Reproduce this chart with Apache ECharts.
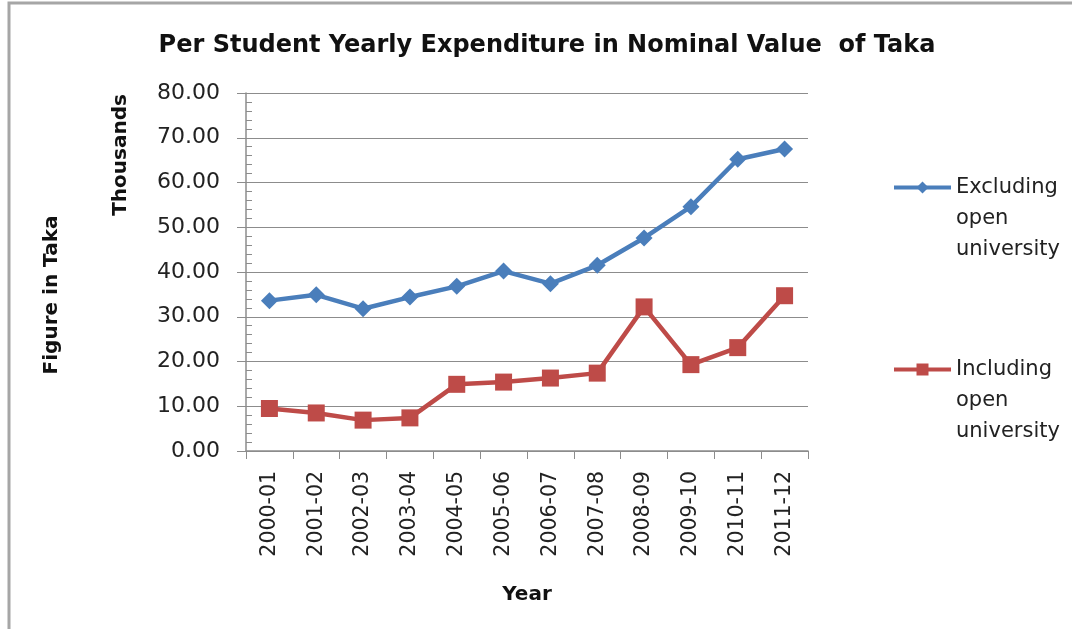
<!DOCTYPE html>
<html>
<head>
<meta charset="utf-8">
<script src="https://cdn.jsdelivr.net/npm/echarts@6/dist/echarts.min.js"></script>
<style>
  html, body { margin: 0; padding: 0; background: #fff; }
  #myEcharts { width: 1072px; height: 629px; }
</style>
</head>
<body>
<div id="myEcharts"></div>
<script>
// categories (school years) and the two series, in thousands of Taka
const years = ["2000-01", "2001-02", "2002-03", "2003-04", "2004-05", "2005-06",
               "2006-07", "2007-08", "2008-09", "2009-10", "2010-11", "2011-12"];
const excludingOpen = [33.6, 34.9, 31.8, 34.4, 36.8, 40.2, 37.4, 41.5, 47.6, 54.6, 65.2, 67.5];
const includingOpen = [9.5, 8.5, 6.9, 7.4, 14.9, 15.4, 16.3, 17.4, 32.2, 19.3, 23.1, 34.7];
const yTicks = { min: 0, max: 80, interval: 10 };

const font = "DejaVu Sans";
const gray = "#8c8c8c";

let chart = echarts.init(document.getElementById("myEcharts"));
chart.setOption({
    animation: false,
    title: {
        text: "Per Student Yearly Expenditure in Nominal Value  of Taka",
        left: 542,
        textAlign: "center",
        top: 29,
        textStyle: { fontFamily: font, fontSize: 24, fontWeight: "bold", color: "#111" }
    },
    grid: { left: 246, right: 264, top: 93, bottom: 178 },
    legend: {
        orient: "vertical",
        left: 887,
        top: 105,
        itemWidth: 57,
        itemHeight: 15,
        itemGap: 27,
        data: ["Excluding open university", "Including open university"],
        // two blank lines first so the icon sits level with the first word
        formatter: function (name) {
            return "\n\n" + name.replace(/ /g, "\n");
        },
        lineStyle: { width: 4 },
        textStyle: { fontFamily: font, fontSize: 21, lineHeight: 31, color: "#222" }
    },
    xAxis: {
        type: "category",
        data: years,
        boundaryGap: true,
        name: "Year",
        nameLocation: "middle",
        nameGap: 134,
        nameTextStyle: { fontFamily: font, fontSize: 20, fontWeight: "bold", color: "#111" },
        axisLine: { lineStyle: { color: gray, width: 1.5 } },
        axisTick: { show: true, length: 8, lineStyle: { color: gray } },
        axisLabel: { rotate: 90, margin: 20, fontFamily: font, fontSize: 20.5, color: "#222" }
    },
    yAxis: [
        {
            type: "value",
            min: yTicks.min,
            max: yTicks.max,
            interval: yTicks.interval,
            axisLine: { show: true, lineStyle: { color: gray, width: 1.5 } },
            axisTick: { show: true, length: 9, lineStyle: { color: gray } },
            splitLine: { show: true, lineStyle: { color: gray, width: 1.2 } },
            axisLabel: {
                margin: 26, fontFamily: font, fontSize: 22, color: "#222",
                formatter: function (v) { return v.toFixed(2); }
            }
        },
        {
            // overlay axis only for the minor ticks, which point into the plot
            type: "value",
            position: "left",
            min: yTicks.min,
            max: yTicks.max,
            interval: yTicks.interval,
            axisLine: { show: false },
            axisLabel: { show: false },
            splitLine: { show: false },
            axisTick: { show: true, inside: true, length: 0 },
            minorTick: { show: true, splitNumber: 5, length: 6, lineStyle: { color: gray } }
        }
    ],
    series: [
        {
            name: "Excluding open university",
            type: "line",
            data: excludingOpen,
            symbol: "diamond",
            symbolSize: 17,
            lineStyle: { width: 4.5, color: "#4a7ebb" },
            itemStyle: { color: "#4a7ebb" }
        },
        {
            name: "Including open university",
            type: "line",
            data: includingOpen,
            symbol: "rect",
            symbolSize: 17,
            lineStyle: { width: 4.5, color: "#be4b48" },
            itemStyle: { color: "#be4b48" }
        }
    ],
    graphic: [
        {
            type: "rect",
            shape: { x: 9, y: 3, width: 1200, height: 800 },
            style: { fill: "none", stroke: "#a6a6a6", lineWidth: 3 }
        },
        {
            type: "text",
            x: 121, y: 155, rotation: Math.PI / 2,
            style: {
                text: "Thousands", align: "center", verticalAlign: "middle",
                fontFamily: font, fontSize: 20, fontWeight: "bold", fill: "#111"
            }
        },
        {
            type: "text",
            x: 52, y: 295, rotation: Math.PI / 2,
            style: {
                text: "Figure in Taka", align: "center", verticalAlign: "middle",
                fontFamily: font, fontSize: 20, fontWeight: "bold", fill: "#111"
            }
        }
    ]
});
window.addEventListener("resize", () => {
    chart.resize();
});
</script>
</body>
</html>
